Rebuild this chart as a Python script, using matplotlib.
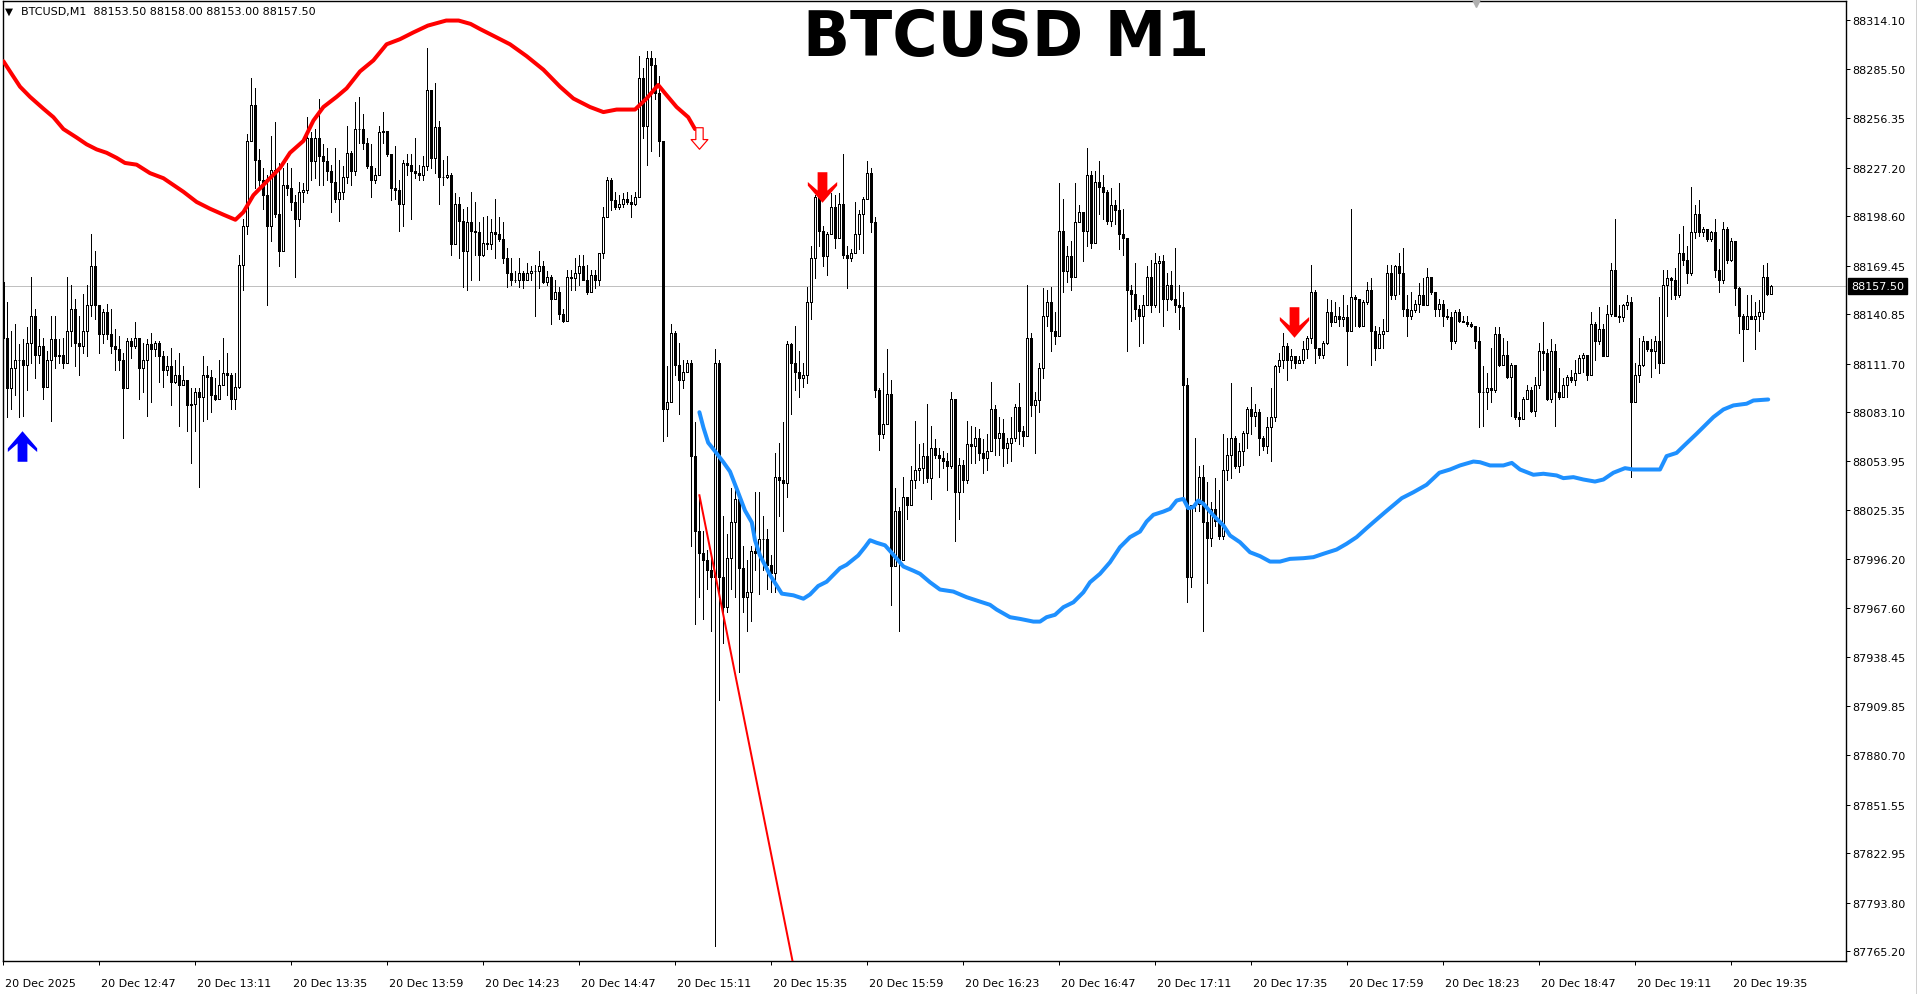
import numpy as np
import matplotlib
matplotlib.use("Agg")
import matplotlib.pyplot as plt
from matplotlib.path import Path
from matplotlib import transforms
from matplotlib.lines import Line2D

W, H = 1917, 995
DPI = 100
PX = 72.0 / DPI  # one screen pixel in points

# ---------------- data (BTCUSD M1, 20 Dec 2025 12:23 -> 19:45) ----------------
first_open = 88160.0

closes = [
    88127, 88097, 88109, 88114, 88114, 88111, 88124, 88140, 88117, 88122,
    88098, 88114, 88126, 88116, 88117, 88112, 88131, 88144, 88124, 88122,
    88131, 88146, 88169, 88146, 88129, 88142, 88129, 88122, 88120, 88114,
    88097, 88125, 88122, 88127, 88109, 88114, 88123, 88120, 88124, 88116,
    88108, 88110, 88101, 88105, 88099, 88102, 88087, 88088, 88095, 88092,
    88105, 88104, 88093, 88091, 88099, 88106, 88105, 88091, 88098, 88170,
    88193, 88243, 88264, 88232, 88220, 88211, 88193, 88226, 88200, 88178,
    88217, 88215, 88207, 88197, 88213, 88214, 88245, 88231, 88245, 88234,
    88231, 88225, 88219, 88209, 88213, 88222, 88236, 88225, 88250, 88250,
    88242, 88228, 88220, 88223, 88248, 88249, 88235, 88215, 88214, 88206,
    88230, 88229, 88225, 88224, 88223, 88228, 88273, 88233, 88251, 88222,
    88222, 88223, 88182, 88206, 88196, 88178, 88195, 88190, 88189, 88176,
    88183, 88182, 88189, 88188, 88185, 88174, 88165, 88161, 88161, 88165,
    88161, 88165, 88166, 88166, 88169, 88160, 88163, 88150, 88154, 88141,
    88137, 88163, 88162, 88165, 88169, 88161, 88154, 88164, 88161, 88177,
    88198, 88220, 88208, 88204, 88206, 88209, 88207, 88206, 88210, 88280,
    88252, 88292, 88288, 88271, 88243, 88085, 88089, 88130, 88111, 88102,
    88107, 88112, 88057, 88013, 88000, 87996, 87990, 87986, 88112, 87986,
    87968, 87997, 88018, 88032, 87991, 87974, 87977, 88001, 88000, 88008,
    88008, 87993, 87988, 88045, 88043, 88041, 88123, 88112, 88107, 88103,
    88105, 88148, 88174, 88210, 88190, 88175, 88188, 88204, 88186, 88206,
    88176, 88174, 88177, 88188, 88200, 88209, 88224, 88195, 88096, 88070,
    88076, 88094, 87992, 88025, 87996, 88033, 88028, 88043, 88049, 88050,
    88057, 88044, 88062, 88058, 88056, 88054, 88051, 88091, 88036, 88052,
    88043, 88064, 88063, 88068, 88059, 88056, 88060, 88085, 88068, 88071,
    88062, 88065, 88068, 88086, 88072, 88069, 88127, 88087, 88090, 88109,
    88140, 88148, 88131, 88128, 88190, 88166, 88175, 88163, 88195, 88201,
    88190, 88223, 88183, 88219, 88216, 88213, 88196, 88205, 88202, 88188,
    88186, 88155, 88153, 88144, 88140, 88146, 88163, 88146, 88171, 88172,
    88150, 88158, 88150, 88146, 88145, 88099, 87986, 88028, 88029, 88045,
    88018, 88009, 88026, 88019, 88010, 88049, 88058, 88068, 88051, 88060,
    88071, 88085, 88081, 88083, 88068, 88063, 88074, 88080, 88110, 88114,
    88122, 88114, 88116, 88112, 88114, 88120, 88127, 88154, 88121, 88117,
    88124, 88142, 88136, 88140, 88138, 88139, 88131, 88151, 88150, 88134,
    88148, 88155, 88131, 88121, 88129, 88131, 88165, 88152, 88169, 88165,
    88144, 88140, 88143, 88147, 88152, 88146, 88163, 88154, 88144, 88147,
    88140, 88139, 88125, 88142, 88137, 88136, 88135, 88134, 88125, 88095,
    88095, 88097, 88096, 88129, 88111, 88117, 88104, 88111, 88080, 88079,
    88091, 88096, 88084, 88099, 88119, 88118, 88091, 88119, 88095, 88092,
    88099, 88104, 88102, 88106, 88115, 88117, 88105, 88135, 88125, 88132,
    88116, 88141, 88167, 88140, 88139, 88146, 88148, 88089, 88105, 88111,
    88125, 88120, 88119, 88125, 88112, 88158, 88162, 88161, 88152, 88177,
    88173, 88165, 88189, 88200, 88189, 88191, 88185, 88189, 88167, 88161,
    88191, 88173, 88184, 88156, 88140, 88132, 88140, 88138, 88140, 88142,
    88163, 88153, 88157.5,
]

highs = [
    88164, 88148, 88131, 88135, 88123, 88126, 88133, 88163, 88144, 88132,
    88127, 88119, 88140, 88140, 88126, 88127, 88163, 88158, 88150, 88140,
    88153, 88158, 88188, 88178, 88146, 88144, 88147, 88144, 88132, 88128,
    88118, 88127, 88127, 88136, 88126, 88124, 88126, 88130, 88125, 88125,
    88119, 88116, 88121, 88114, 88118, 88110, 88102, 88097, 88097, 88097,
    88116, 88110, 88108, 88103, 88114, 88127, 88118, 88106, 88106, 88176,
    88197, 88247, 88280, 88274, 88238, 88227, 88223, 88246, 88254, 88230,
    88227, 88230, 88227, 88211, 88219, 88218, 88257, 88248, 88250, 88268,
    88241, 88239, 88229, 88239, 88232, 88228, 88252, 88237, 88266, 88269,
    88259, 88245, 88241, 88227, 88252, 88260, 88249, 88235, 88240, 88220,
    88232, 88235, 88235, 88245, 88229, 88234, 88298, 88272, 88277, 88255,
    88232, 88234, 88224, 88212, 88210, 88203, 88204, 88213, 88207, 88195,
    88198, 88199, 88197, 88209, 88198, 88195, 88180, 88174, 88166, 88174,
    88166, 88171, 88169, 88170, 88178, 88172, 88166, 88164, 88161, 88157,
    88144, 88167, 88167, 88174, 88176, 88176, 88170, 88167, 88167, 88177,
    88204, 88222, 88221, 88213, 88211, 88212, 88213, 88211, 88213, 88293,
    88286, 88296, 88296, 88292, 88281, 88243, 88110, 88135, 88131, 88124,
    88114, 88114, 88114, 88077, 88033, 88013, 88002, 87997, 88120, 88114,
    88022, 88011, 88038, 88042, 88034, 88004, 87996, 88004, 88036, 88036,
    88022, 88014, 87999, 88059, 88065, 88077, 88125, 88124, 88134, 88119,
    88112, 88157, 88181, 88211, 88211, 88193, 88189, 88212, 88211, 88212,
    88235, 88181, 88179, 88207, 88202, 88210, 88231, 88227, 88198, 88097,
    88106, 88120, 88102, 88038, 88027, 88045, 88032, 88051, 88078, 88064,
    88065, 88088, 88075, 88067, 88062, 88060, 88059, 88095, 88088, 88056,
    88055, 88078, 88075, 88074, 88073, 88067, 88070, 88101, 88087, 88080,
    88079, 88068, 88080, 88088, 88100, 88075, 88158, 88130, 88095, 88112,
    88156, 88155, 88157, 88142, 88218, 88209, 88181, 88184, 88218, 88205,
    88197, 88239, 88225, 88225, 88231, 88223, 88214, 88215, 88208, 88218,
    88203, 88186, 88158, 88171, 88146, 88152, 88169, 88173, 88177, 88175,
    88176, 88165, 88166, 88180, 88158, 88154, 88103, 88028, 88068, 88051,
    88052, 88042, 88030, 88044, 88037, 88070, 88068, 88100, 88069, 88065,
    88072, 88086, 88098, 88088, 88085, 88069, 88080, 88097, 88111, 88118,
    88130, 88124, 88120, 88116, 88116, 88125, 88128, 88170, 88155, 88121,
    88125, 88150, 88149, 88148, 88145, 88152, 88146, 88203, 88152, 88140,
    88149, 88160, 88162, 88134, 88133, 88138, 88170, 88170, 88170, 88177,
    88180, 88152, 88154, 88149, 88159, 88162, 88168, 88163, 88153, 88150,
    88149, 88144, 88142, 88143, 88144, 88140, 88140, 88136, 88132, 88133,
    88110, 88106, 88121, 88133, 88133, 88127, 88125, 88112, 88111, 88083,
    88092, 88099, 88098, 88104, 88124, 88136, 88120, 88126, 88123, 88109,
    88103, 88105, 88108, 88114, 88117, 88118, 88116, 88142, 88136, 88145,
    88135, 88146, 88171, 88197, 88146, 88147, 88152, 88151, 88112, 88127,
    88128, 88125, 88126, 88128, 88151, 88167, 88167, 88163, 88168, 88188,
    88193, 88181, 88216, 88205, 88208, 88192, 88191, 88190, 88197, 88179,
    88195, 88192, 88186, 88180, 88157, 88141, 88152, 88152, 88148, 88149,
    88170, 88171, 88158,
]

lows = [
    88127, 88080, 88085, 88093, 88080, 88081, 88096, 88112, 88103, 88112,
    88091, 88098, 88078, 88109, 88112, 88109, 88112, 88122, 88110, 88105,
    88118, 88116, 88140, 88138, 88118, 88124, 88126, 88118, 88108, 88108,
    88068, 88098, 88115, 88121, 88091, 88095, 88081, 88089, 88116, 88101,
    88098, 88105, 88087, 88100, 88075, 88099, 88072, 88053, 88072, 88039,
    88078, 88079, 88083, 88090, 88091, 88099, 88093, 88085, 88085, 88097,
    88155, 88188, 88243, 88215, 88215, 88203, 88146, 88184, 88198, 88169,
    88178, 88211, 88202, 88163, 88193, 88207, 88212, 88220, 88221, 88217,
    88217, 88220, 88201, 88207, 88196, 88209, 88218, 88217, 88223, 88242,
    88238, 88227, 88210, 88218, 88223, 88242, 88234, 88208, 88209, 88190,
    88193, 88223, 88197, 88221, 88220, 88220, 88226, 88227, 88224, 88206,
    88217, 88221, 88176, 88183, 88174, 88157, 88155, 88161, 88176, 88161,
    88175, 88179, 88179, 88174, 88184, 88171, 88157, 88158, 88160, 88157,
    88156, 88161, 88161, 88140, 88156, 88159, 88158, 88135, 88150, 88138,
    88136, 88137, 88155, 88155, 88158, 88161, 88153, 88155, 88156, 88158,
    88174, 88198, 88202, 88203, 88203, 88204, 88206, 88198, 88205, 88212,
    88245, 88229, 88237, 88268, 88234, 88066, 88069, 88089, 88105, 88082,
    88097, 88107, 88004, 87958, 87974, 87961, 87979, 87954, 87768, 87913,
    87947, 87965, 87979, 87974, 87930, 87965, 87954, 87960, 87990, 87976,
    87990, 87979, 87977, 87977, 88022, 88013, 88033, 88082, 88096, 88092,
    88098, 88100, 88138, 88162, 88181, 88169, 88164, 88189, 88180, 88186,
    88174, 88156, 88172, 88177, 88179, 88177, 88209, 88189, 88092, 88061,
    88068, 88079, 87969, 87996, 87954, 87996, 88020, 88028, 88038, 88043,
    88041, 88042, 88032, 88056, 88045, 88050, 88037, 88050, 88007, 88020,
    88036, 88041, 88053, 88053, 88055, 88047, 88049, 88060, 88058, 88058,
    88051, 88053, 88054, 88066, 88064, 88063, 88070, 88081, 88059, 88083,
    88103, 88134, 88119, 88123, 88139, 88154, 88160, 88155, 88165, 88195,
    88172, 88181, 88180, 88186, 88200, 88197, 88194, 88193, 88194, 88179,
    88176, 88119, 88137, 88138, 88122, 88124, 88146, 88142, 88145, 88142,
    88134, 88143, 88149, 88142, 88132, 88031, 87971, 87980, 88025, 88025,
    87954, 87982, 88004, 88016, 88008, 88008, 88043, 88044, 88050, 88048,
    88052, 88062, 88070, 88075, 88058, 88061, 88059, 88054, 88078, 88107,
    88109, 88102, 88109, 88109, 88112, 88112, 88115, 88124, 88112, 88115,
    88115, 88123, 88134, 88136, 88134, 88134, 88111, 88132, 88134, 88133,
    88134, 88147, 88111, 88114, 88123, 88121, 88133, 88150, 88150, 88153,
    88140, 88128, 88138, 88142, 88142, 88146, 88147, 88153, 88140, 88140,
    88134, 88138, 88120, 88124, 88136, 88136, 88134, 88133, 88121, 88074,
    88075, 88085, 88089, 88095, 88110, 88114, 88103, 88081, 88079, 88075,
    88079, 88092, 88083, 88081, 88097, 88108, 88090, 88089, 88075, 88091,
    88092, 88092, 88101, 88099, 88107, 88107, 88102, 88106, 88114, 88123,
    88116, 88116, 88140, 88140, 88136, 88137, 88144, 88045, 88089, 88101,
    88110, 88119, 88104, 88109, 88106, 88121, 88140, 88150, 88150, 88151,
    88170, 88159, 88164, 88186, 88187, 88187, 88184, 88184, 88163, 88154,
    88159, 88171, 88172, 88146, 88130, 88113, 88132, 88138, 88120, 88131,
    88138, 88152, 88153,
]

# upper (red) and lower (blue) indicator lines: bar number, price
red_band_x = [0.1, 1.75, 4.25, 6.75, 10.1, 12.6, 15.1, 18.4, 20.9, 23.4,
              25.9, 28.4, 30.5, 33.4, 36.75, 40.1, 42.6, 45.1, 48.4, 51.75,
              55.1, 58.1, 60.1, 62.6, 65.9, 69.25, 71.75, 75.1, 77.6, 80.1,
              83.4, 85.9, 89.25, 92.6, 95.9, 99.25, 102.6, 106.2, 110.8, 113.9,
              116.9, 119.25, 122.6, 126.75, 130.9, 135.1, 139.25, 142.6, 146.75, 150.1,
              153.4, 158.0, 160.9, 163.8, 165.9, 168.4, 171.3, 173.0]
red_band_y = [88290, 88284, 88275, 88269, 88262, 88257, 88250, 88245, 88241, 88238,
              88236, 88233, 88230, 88229, 88224, 88221, 88217, 88213, 88207, 88203,
              88199.5, 88196.5, 88201, 88211, 88219, 88227, 88236, 88243, 88255, 88263,
              88269, 88274, 88284, 88290.5, 88300, 88303, 88307, 88311, 88314, 88314,
              88312, 88309, 88305, 88300, 88293, 88285, 88275, 88268, 88263, 88260,
              88261.5, 88261.5, 88268, 88276, 88270, 88263, 88257, 88250]

blue_band_x = [174.1, 175.1, 176.3, 178, 180.1, 181.75, 183.4, 185.5, 187.2, 188,
               189.25, 191.75, 194.7, 197.6, 200.1, 201.75, 203.8, 205.9, 209.25, 210.9,
               213.8, 215.5, 216.75, 218.4, 220.5, 222.2, 225.1, 227.6, 229.25, 231.75,
               234.25, 237.6, 240.9, 244.25, 246.75, 248.4, 251.75, 254.25, 257.6, 259.25,
               260.9, 263, 265.1, 267.6, 270.1, 271.75, 274.25, 276.75, 279.25, 281.75,
               284.25, 285.9, 287.6, 290.1, 291.75, 293.4, 295.1, 296.3, 297.6, 298.8,
               300.1, 302.6, 305.1, 306.75, 309.25, 311.75, 314.25, 316.75, 319.25, 321.75,
               325.1, 327.6, 330.1, 333.4, 335.9, 338.4, 340.9, 342.6, 345.5, 349.7,
               352.6, 355.9, 359.1, 361.75, 364.25, 367.6, 369.25, 371.75, 375.1, 377.2,
               379.25, 382.6, 385.1, 388.4, 390.1, 392.6, 395.1, 398, 400.1, 402.6,
               405.5, 407.6, 410.1, 414.25, 415.9, 418.4, 420.5, 423.4, 425.5, 427.6,
               430.1, 432.6, 435.9, 437.6, 441.3]
blue_band_y = [88083, 88074, 88065, 88060, 88053.5, 88048, 88038, 88025, 88018, 88007.5,
               87998.5, 87987, 87976, 87975, 87973, 87975.5, 87980.5, 87983, 87991, 87993,
               87998.5, 88003.5, 88007.5, 88006, 88004.5, 88000, 87992, 87989.5, 87987.7, 87982.7,
               87978.4, 87977.2, 87973.9, 87971.3, 87969.4, 87966.6, 87962.1, 87961.1, 87959.5, 87959.5,
               87962.1, 87963.5, 87968, 87970.9, 87976.8, 87982.7, 87987.7, 87994.5, 88003.4, 88009.3,
               88012.6, 88018.5, 88022.5, 88024.4, 88026, 88030.9, 88031.9, 88026.4, 88027, 88030.9,
               88029, 88022.1, 88016.2, 88010.3, 88006.3, 88000.4, 87998.1, 87994.9, 87994.9, 87996.5,
               87996.9, 87997.5, 87999.5, 88002, 88005.4, 88009.3, 88014.6, 88018.1, 88024, 88032.3,
               88035.8, 88040.2, 88047.3, 88049.2, 88051.6, 88053.9, 88053.5, 88051.6, 88051.6, 88053.1,
               88049.2, 88046.1, 88046.7, 88045.7, 88044.1, 88044.7, 88043.3, 88042.1, 88043.3, 88047.3,
               88050, 88049.2, 88049.2, 88049.2, 88057.1, 88059, 88063.8, 88070.3, 88075.2, 88080.1,
               88084.6, 88087, 88088, 88089.9, 88090.5]

# straight red projection line
fall_line_x = [174.1, 198.0]
fall_line_y = [88034.0, 87752.0]

# signal arrows
buy_x, buy_y = [4.85], [88063.0]
sell_x, sell_y = [204.75, 322.8], [88216.0, 88136.0]
exit_x, exit_y = [173.9], [88245.0]

price_ticks = [88314.10, 88285.50, 88256.35, 88227.20, 88198.60, 88169.45, 88140.85,
               88111.70, 88083.10, 88053.95, 88025.35, 87996.20, 87967.60, 87938.45,
               87909.85, 87880.70, 87851.55, 87822.95, 87793.80, 87765.20]
last_price = 88157.50

tick_times = ["12:23", "12:47", "13:11", "13:35", "13:59", "14:23", "14:47", "15:11",
              "15:35", "15:59", "16:23", "16:47", "17:11", "17:35", "17:59", "18:23",
              "18:47", "19:11", "19:35"]

# ---------------- drawing ----------------
plt.rcParams['font.family'] = ['DejaVu Sans']

c = np.array(closes, dtype=float)
o = np.array([first_open] + closes[:-1], dtype=float)
hi = np.maximum(np.array(highs, dtype=float), np.maximum(o, c))
lo = np.minimum(np.array(lows, dtype=float), np.minimum(o, c))
x = np.arange(len(c))

fig = plt.figure(figsize=(W / DPI, H / DPI), dpi=DPI)
ax = fig.add_axes([2.5 / W, 1 - 961.7 / H, 1843 / W, 960 / H])
ax.set_xlim(-0.125, 460.625)
ax.set_ylim(87759.5, 88325.7)

ax.axhline(last_price, color='#c0c0c0', lw=PX, zorder=1)

ax.vlines(x, lo, hi, color='black', lw=PX, zorder=2, antialiased=False)
bull = c > o
bear = c < o
flat = c == o
bottom = np.minimum(o, c)
height = np.abs(c - o)
ax.bar(x[bull], height[bull], bottom=bottom[bull], width=0.5, color='white',
       edgecolor='black', linewidth=PX, zorder=3, antialiased=False)
ax.bar(x[bear], height[bear], bottom=bottom[bear], width=0.5, color='black',
       edgecolor='black', linewidth=PX, zorder=3, antialiased=False)
ax.hlines(c[flat], x[flat] - 0.35, x[flat] + 0.35, color='black', lw=PX, zorder=3)

ax.plot(red_band_x, red_band_y, color='#ff0000', lw=4 * PX, zorder=5,
        solid_capstyle='round', solid_joinstyle='round')
ax.plot(blue_band_x, blue_band_y, color='#1e90ff', lw=4 * PX, zorder=5,
        solid_capstyle='round', solid_joinstyle='round')
ax.plot(fall_line_x, fall_line_y, color='#ff0000', lw=2 * PX, zorder=5)

# arrow shapes (thick wingdings-like arrow and hollow exit arrow)
arrow_up = [(0, 0.5), (0.48, -0.06), (0.48, -0.18), (0.16, 0.1), (0.16, -0.5),
            (-0.16, -0.5), (-0.16, 0.1), (-0.48, -0.18), (-0.48, -0.06), (0, 0.5)]
up_path = Path(arrow_up, closed=True)
down_path = Path([(vx, -vy) for vx, vy in arrow_up], closed=True)
hollow = [(-0.17, 0.5), (0.17, 0.5), (0.17, -0.05), (0.39, -0.05), (0, -0.5),
          (-0.39, -0.05), (-0.17, -0.05), (-0.17, 0.5)]
hollow_path = Path(hollow, closed=True)

ax.plot(buy_x, buy_y, ls='none', marker=up_path, ms=22, mfc='#0000ff', mec='#0000ff',
        mew=0, zorder=6)
ax.plot(sell_x, sell_y, ls='none', marker=down_path, ms=22, mfc='#ff0000', mec='#ff0000',
        mew=0, zorder=6)
ax.plot(exit_x, exit_y, ls='none', marker=hollow_path, ms=15.5, mfc='white', mec='#ff0000',
        mew=1.2 * PX, zorder=6)

# axes frame
for s in ax.spines.values():
    s.set_color('black')
    s.set_linewidth(1.0)

# right price scale
ax.yaxis.tick_right()
ax.set_yticks(price_ticks)
ax.set_yticklabels([f"{v:.2f}" for v in price_ticks])
ax.tick_params(axis='y', direction='out', length=4 * PX, width=PX, pad=1.8,
               labelsize=8, colors='black')

# time scale
start_min = int(tick_times[0][:2]) * 60 + int(tick_times[0][3:])
tick_idx = [int(t[:2]) * 60 + int(t[3:]) - start_min for t in tick_times]
tick_lab = ["20 Dec 2025"] + ["20 Dec " + t for t in tick_times[1:]]
ax.set_xticks(tick_idx)
ax.set_xticklabels(tick_lab, ha='left')
ax.tick_params(axis='x', direction='out', length=4 * PX, width=PX, pad=9.5,
               labelsize=8, colors='black')
shift = transforms.ScaledTranslation(2 / DPI, 0, fig.dpi_scale_trans)
for lab in ax.get_xticklabels():
    lab.set_transform(lab.get_transform() + shift)

# last price box on the scale
box_tr = transforms.offset_copy(ax.get_yaxis_transform(), fig=fig, x=5.5, y=0, units='dots')
ax.text(1.0, last_price, f"{last_price:.2f}", transform=box_tr, ha='left', va='center',
        fontsize=8, color='white', clip_on=False, zorder=10,
        bbox=dict(boxstyle='square,pad=0.28', facecolor='black', edgecolor='black'))

# header and title
fig.text(5 / W, 1 - 14.5 / H, "\u25bc", fontsize=7.5, ha='left', va='baseline', color='black')
fig.text(21 / W, 1 - 15.5 / H, "BTCUSD,M1  88153.50 88158.00 88153.00 88157.50",
         fontsize=8, ha='left', va='baseline', color='black')
fig.text(1006 / W, 1 - 56 / H, "BTCUSD M1", fontsize=44.5, fontweight='bold',
         ha='center', va='baseline', color='black')

# small chart-shift marker and window edge
fig.add_artist(Line2D([1476 / W], [1 - 4 / H], marker='v', ms=6, color='#b0b0b0',
                      ls='none', transform=fig.transFigure))
fig.add_artist(Line2D([1915.5 / W, 1915.5 / W], [0, 1], color='#d0d0d0', lw=PX,
                      transform=fig.transFigure))

fig.savefig("out.png", dpi=DPI)
